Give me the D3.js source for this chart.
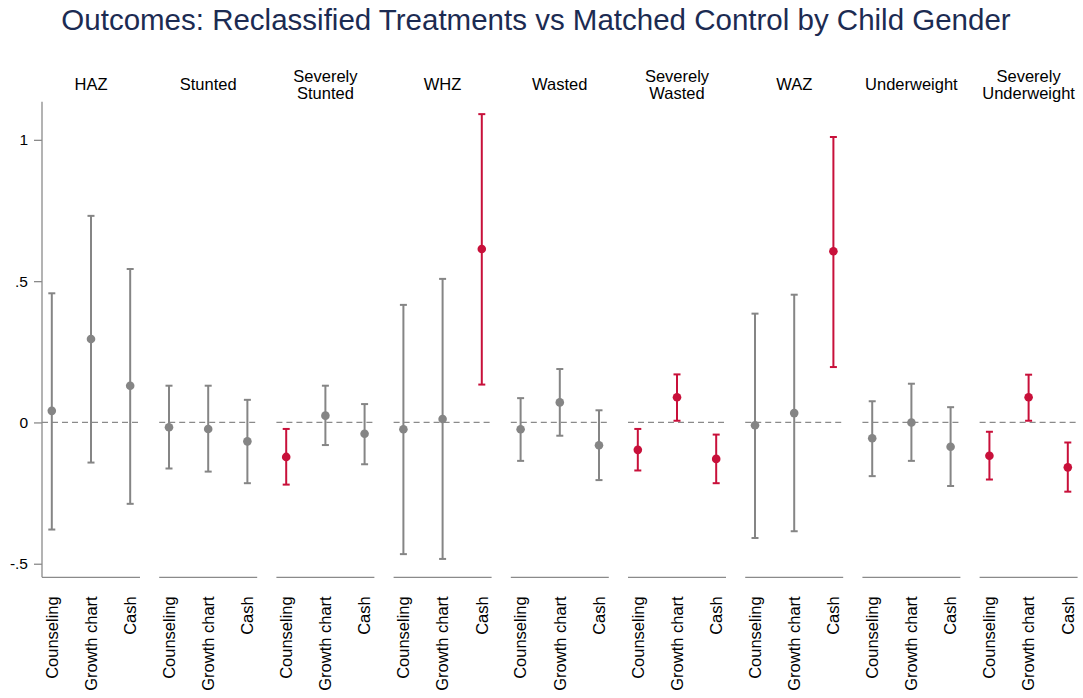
<!DOCTYPE html>
<html>
<head>
<meta charset="utf-8">
<script src="https://cdn.jsdelivr.net/npm/d3@7"></script>
<style>
  body { margin: 0; background: #fff; }
  text { font-family: "Liberation Sans", Arial, sans-serif; }
</style>
</head>
<body>
<script>
"use strict";

// DATA
const title = "Outcomes: Reclassified Treatments vs Matched Control by Child Gender";
const outcomes = ["HAZ", "Stunted", "Severely Stunted", "WHZ", "Wasted", "Severely Wasted", "WAZ", "Underweight", "Severely Underweight"];
const treatments = ["Counseling", "Growth chart", "Cash"];
const yTicks = [-0.5, 0, 0.5, 1];

// point estimates, one row per outcome (Counseling, Growth chart, Cash)
const estimate = [
  [0.041, 0.295, 0.130],
  [-0.017, -0.023, -0.067],
  [-0.122, 0.024, -0.040],
  [-0.024, 0.012, 0.614],
  [-0.024, 0.071, -0.081],
  [-0.097, 0.089, -0.129],
  [-0.010, 0.033, 0.606],
  [-0.056, 0.000, -0.086],
  [-0.118, 0.089, -0.159]
];
const ciLow = [
  [-0.379, -0.142, -0.288],
  [-0.163, -0.174, -0.215],
  [-0.220, -0.080, -0.148],
  [-0.466, -0.483, 0.134],
  [-0.136, -0.047, -0.204],
  [-0.170, 0.006, -0.215],
  [-0.409, -0.385, 0.196],
  [-0.190, -0.136, -0.225],
  [-0.202, 0.006, -0.245]
];
const ciHigh = [
  [0.457, 0.731, 0.543],
  [0.130, 0.130, 0.080],
  [-0.023, 0.130, 0.065],
  [0.416, 0.508, 1.091],
  [0.086, 0.189, 0.043],
  [-0.023, 0.170, -0.043],
  [0.385, 0.452, 1.010],
  [0.075, 0.137, 0.054],
  [-0.033, 0.169, -0.071]
];

const width = 1083;
const height = 698;
const margin = { top: 101.7, right: 5.4, bottom: 120.7, left: 42 };

const grey = "#858585";
const red = "#c8103a";
const axisGrey = "#8a8a8a";

const svg = d3.select("body").append("svg")
  .attr("width", width)
  .attr("height", height);

// title
svg.append("text")
  .attr("x", 536)
  .attr("y", 29.5)
  .attr("text-anchor", "middle")
  .attr("font-size", 29.5)
  .attr("fill", "#1c2b52")
  .text(title);

const y = d3.scaleLinear()
  .domain([-0.548, 1.135])
  .range([height - margin.bottom, margin.top]);

const panelX = d3.scaleBand()
  .domain(outcomes)
  .range([margin.left, width - margin.right])
  .paddingInner(0.164)
  .paddingOuter(0);

const x = d3.scalePoint()
  .domain(treatments)
  .range([0, panelX.bandwidth()])
  .padding(0.25);

// y axis, Stata style labels without the leading zero
const fmt = (d) => String(d).replace(/^(-?)0\./, "$1.");
svg.append("g")
  .attr("transform", `translate(${margin.left},0)`)
  .call(d3.axisLeft(y).tickValues(yTicks).tickFormat(fmt).tickSize(8).tickPadding(6))
  .call((g) => g.select(".domain").attr("stroke", axisGrey).attr("stroke-width", 1.3)
    .attr("d", `M0,${y.range()[1]}V${y.range()[0]}`))
  .call((g) => g.selectAll(".tick line").attr("stroke", axisGrey).attr("stroke-width", 1.3))
  .call((g) => g.selectAll(".tick text").attr("font-size", 15.5).attr("fill", "#000")
    .attr("font-family", "Liberation Sans, Arial, sans-serif"));

// rows of data for each panel
const rows = outcomes.map((o, i) => ({
  outcome: o,
  points: treatments.map((t, j) => ({
    treatment: t,
    est: estimate[i][j],
    lo: ciLow[i][j],
    hi: ciHigh[i][j]
  }))
}));

const panel = svg.append("g")
  .selectAll("g")
  .data(rows)
  .join("g")
  .attr("transform", (d) => `translate(${panelX(d.outcome)},0)`);

// panel header, two-word names go on two lines
panel.append("text")
  .attr("text-anchor", "middle")
  .attr("font-size", 16.5)
  .attr("fill", "#000")
  .each(function (d) {
    const words = d.outcome.split(" ");
    const t = d3.select(this);
    const y0 = words.length > 1 ? 82 : 90;
    words.forEach((w, k) => {
      t.append("tspan")
        .attr("x", panelX.bandwidth() / 2)
        .attr("y", y0 + k * 16.5)
        .text(w);
    });
  });

// x axis line for each panel
panel.append("g")
  .attr("transform", `translate(0,${y.range()[0]})`)
  .call(d3.axisBottom(x).tickSize(0).tickPadding(0).tickFormat(""))
  .call((g) => g.select(".domain").attr("stroke", axisGrey).attr("stroke-width", 1.3)
    .attr("d", `M0,0H${panelX.bandwidth()}`));

// rotated treatment labels
panel.append("g")
  .selectAll("text")
  .data(treatments)
  .join("text")
  .attr("transform", (t) => `translate(${x(t)},${y.range()[0] + 19}) rotate(-90)`)
  .attr("text-anchor", "end")
  .attr("dy", "0.35em")
  .attr("font-size", 16.5)
  .attr("fill", "#000")
  .text((t) => t);

// dashed zero line
panel.append("line")
  .attr("x1", 0)
  .attr("x2", panelX.bandwidth())
  .attr("y1", y(0))
  .attr("y2", y(0))
  .attr("stroke", axisGrey)
  .attr("stroke-width", 1.3)
  .attr("stroke-dasharray", "6,4");

// coefficient marks: red when the interval excludes zero
const colorOf = (p) => (p.lo > 0 || p.hi < 0 ? red : grey);
const capW = 3.5;

const mark = panel.append("g")
  .selectAll("g")
  .data((d) => d.points)
  .join("g")
  .attr("transform", (p) => `translate(${x(p.treatment)},0)`);

mark.append("line")
  .attr("y1", (p) => y(p.lo))
  .attr("y2", (p) => y(p.hi))
  .attr("stroke", colorOf)
  .attr("stroke-width", 2);

mark.selectAll(".cap")
  .data((p) => [p.lo, p.hi].map((v) => ({ v, c: colorOf(p) })))
  .join("line")
  .attr("class", "cap")
  .attr("x1", -capW)
  .attr("x2", capW)
  .attr("y1", (c) => y(c.v))
  .attr("y2", (c) => y(c.v))
  .attr("stroke", (c) => c.c)
  .attr("stroke-width", 2);

mark.append("circle")
  .attr("cy", (p) => y(p.est))
  .attr("r", 4.3)
  .attr("fill", colorOf);
</script>
</body>
</html>
